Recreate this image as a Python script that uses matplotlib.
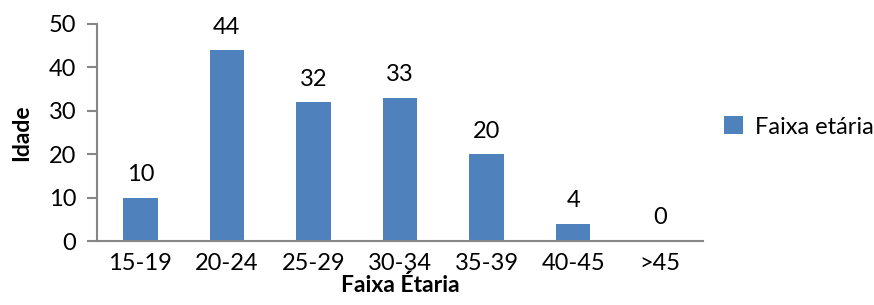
import matplotlib
matplotlib.use("Agg")
import matplotlib.pyplot as plt
import numpy as np

categories = ["15-19", "20-24", "25-29", "30-34", "35-39", "40-45", ">45"]
values = [10, 44, 32, 33, 20, 4, 0]
series_name = "Faixa etária"

plt.rcParams["font.family"] = ["Lato", "DejaVu Sans"]

fig = plt.figure(figsize=(8.74, 3.05), dpi=100)
ax = fig.add_axes([97 / 874, 1 - 241 / 305, 606 / 874, 217 / 305])

x = np.arange(len(categories))
bars = ax.bar(x, values, width=0.4, color="#4F81BD", label=series_name)
for xi, v in zip(x, values):
    ax.annotate(str(v), xy=(xi, v), xytext=(0, 9), textcoords="offset points",
                ha="center", va="bottom", fontsize=17)

ax.set_xlim(-0.5, len(categories) - 0.5)
ax.set_ylim(0, 50)
ax.set_yticks(range(0, 51, 10))
ax.set_xticks(x)
ax.set_xticklabels(categories, fontsize=17)
ax.tick_params(axis="y", labelsize=17, length=7, width=1.5, color="#868686", pad=8)
ax.tick_params(axis="x", length=0, pad=9)

for s in ["top", "right"]:
    ax.spines[s].set_visible(False)
for s in ["left", "bottom"]:
    ax.spines[s].set_color("#868686")
    ax.spines[s].set_linewidth(1.5)

ax.set_ylabel("Idade", fontsize=16.5, fontweight="bold", labelpad=12)
ax.set_xlabel("Faixa Étaria", fontsize=16.5, fontweight="bold", labelpad=0)

fig.legend(*ax.get_legend_handles_labels(), loc="center left",
           bbox_to_anchor=(724 / 874, 1 - 127 / 305), frameon=False,
           fontsize=17, handlelength=0.8, handleheight=0.8, handletextpad=0.5,
           borderpad=0, borderaxespad=0)

fig.savefig("out.png", dpi=100)
